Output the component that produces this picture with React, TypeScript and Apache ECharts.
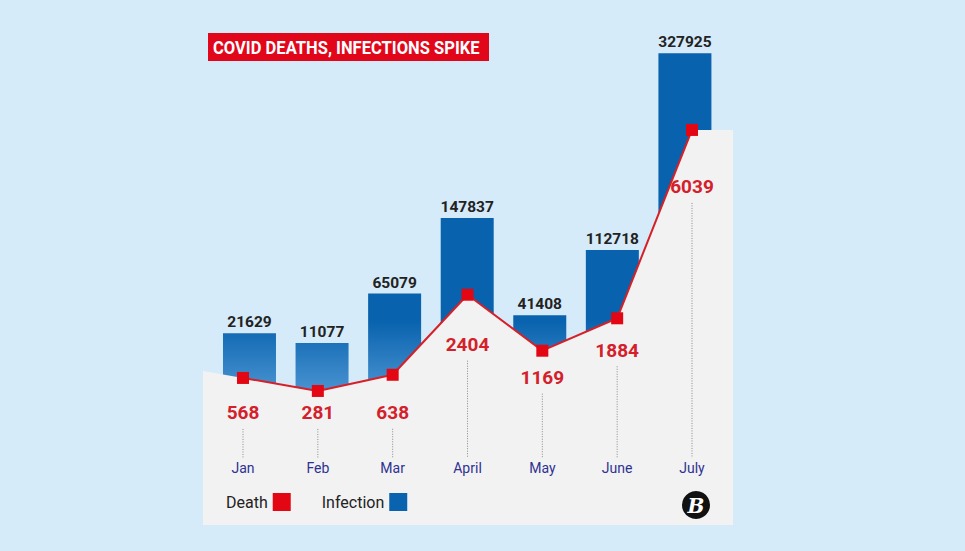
import React, { useEffect, useRef } from "react";
import * as echarts from "echarts";

const months = ["Jan", "Feb", "Mar", "April", "May", "June", "July"];
const infections = [21629, 11077, 65079, 147837, 41408, 112718, 327925];
const deaths = [568, 281, 638, 2404, 1169, 1884, 6039];
// vertical drop (px) of each red death label below its marker
const deathLabelDrop = [35, 22, 38, 50, 27, 32, 57];

const W = 965;
const H = 551;
const PANEL_LEFT = 203;
const PANEL_RIGHT = 733;
const PANEL_BOTTOM = 525;
const GRID_TOP = 40;

export default function App() {
  const ref = useRef<HTMLDivElement>(null);

  useEffect(() => {
    if (!ref.current) return;
    const chart = echarts.init(ref.current, null, { renderer: "svg" });

    const barGradient = new echarts.graphic.LinearGradient(
      0, 320, 0, 410,
      [
        { offset: 0, color: "#0862ad" },
        { offset: 1, color: "#5aa0db" },
      ],
      true
    );

    const option: any = {
      animation: false,
      backgroundColor: "#d5ebf9",
      textStyle: { fontFamily: "Roboto" },
      grid: [
        {
          left: 205.6,
          right: W - 729.4,
          top: GRID_TOP,
          bottom: H - PANEL_BOTTOM,
          containLabel: false,
        },
        {
          left: 213.2,
          right: W - 721.2,
          top: GRID_TOP,
          bottom: H - PANEL_BOTTOM,
          containLabel: false,
        },
      ],
      xAxis: [
        {
          type: "category",
          gridIndex: 0,
          data: months,
          boundaryGap: true,
          z: 20,
          axisLine: { show: false },
          axisTick: { show: false },
          splitLine: { show: false },
          axisLabel: {
            margin: -64,
            color: "#2e3192",
            fontSize: 14,
            fontFamily: "Roboto",
          },
        },
        {
          type: "category",
          gridIndex: 1,
          data: months,
          boundaryGap: true,
          show: false,
        },
      ],
      yAxis: [
        { type: "value", gridIndex: 1, min: -188184, max: 342451, show: false, splitLine: { show: false } },
        { type: "value", gridIndex: 0, min: -2676, max: 8023, show: false, splitLine: { show: false } },
      ],
      legend: {
        left: 221,
        top: 488,
        align: "right",
        itemWidth: 18,
        itemHeight: 18,
        itemGap: 31,
        z: 20,
        textStyle: { fontSize: 16, color: "#222", fontFamily: "Roboto" },
        data: [
          { name: "Death", icon: "rect", itemStyle: { color: "#e30613" } },
          { name: "Infection", icon: "rect", itemStyle: { color: "#0a63ae" } },
        ],
      },
      series: [
        {
          name: "Infection",
          type: "custom",
          z: 1,
          xAxisIndex: 1,
          yAxisIndex: 0,
          itemStyle: { color: "#0a63ae" },
          encode: { x: 0, y: 1 },
          data: infections.map((v, i) => [i, v]),
          renderItem: (params: any, api: any) => {
            const idx = api.value(0);
            const v = api.value(1);
            const top = api.coord([idx, v]);
            const bottom = params.coordSys.y + params.coordSys.height;
            const bw = 53;
            return {
              type: "group",
              children: [
                {
                  type: "rect",
                  shape: { x: top[0] - bw / 2, y: top[1], width: bw, height: bottom - top[1] },
                  style: { fill: barGradient },
                },
                {
                  type: "text",
                  style: {
                    text: String(v),
                    x: top[0],
                    y: top[1] - 3,
                    align: "center",
                    verticalAlign: "bottom",
                    fontSize: 15.5,
                    fontWeight: "bold",
                    fontFamily: "Roboto",
                    fill: "#222222",
                  },
                },
              ],
            };
          },
        },
        {
          name: "Death",
          type: "line",
          z: 10,
          xAxisIndex: 0,
          yAxisIndex: 1,
          data: deaths.map((v, i) => ({
            value: v,
            label: { offset: [0, deathLabelDrop[i]] },
          })),
          symbol: "rect",
          symbolSize: 12,
          itemStyle: { color: "#e30613" },
          lineStyle: { color: "#d71f27", width: 2 },
          label: {
            show: true,
            position: "inside",
            color: "#d4202a",
            fontSize: 19,
            fontWeight: "bold",
            fontFamily: "Roboto",
          },
        },
      ],
    };

    chart.setOption(option);

    const pts: number[][] = deaths.map((d, i) =>
      chart.convertToPixel({ xAxisIndex: 0, yAxisIndex: 1 } as any, [i, d]) as number[]
    );

    const polyPoints: number[][] = [
      [PANEL_LEFT, pts[0][1] - 7],
      ...pts.map((p) => [p[0], p[1]]),
      [PANEL_RIGHT, pts[pts.length - 1][1]],
      [PANEL_RIGHT, PANEL_BOTTOM],
      [PANEL_LEFT, PANEL_BOTTOM],
    ];

    const dotted = pts.map((p, i) => ({
      type: "line",
      z: 6,
      silent: true,
      shape: { x1: p[0], y1: p[1] + deathLabelDrop[i] + 16, x2: p[0], y2: 458 },
      style: { stroke: "#8a8a8a", lineWidth: 1, lineDash: [1, 1.5] },
    }));

    chart.setOption({
      graphic: [
        {
          type: "polygon",
          z: 5,
          silent: true,
          shape: { points: polyPoints },
          style: { fill: "#f2f2f2" },
        },
        ...dotted,
        {
          type: "rect",
          z: 20,
          shape: { x: 208, y: 33, width: 281, height: 28 },
          style: { fill: "#e2061b" },
        },
        {
          type: "text",
          z: 21,
          x: 213,
          y: 47.5,
          scaleX: 0.92,
          style: {
            text: "COVID DEATHS, INFECTIONS SPIKE",
            fill: "#ffffff",
            fontSize: 18,
            fontWeight: "bold",
            fontFamily: "Roboto",
            verticalAlign: "middle",
            align: "left",
          },
        },
        {
          type: "circle",
          z: 20,
          shape: { cx: 696, cy: 505, r: 14 },
          style: { fill: "#111111" },
        },
        {
          type: "text",
          z: 21,
          style: {
            text: "B",
            x: 696,
            y: 506,
            fill: "#ffffff",
            fontSize: 20,
            fontStyle: "italic",
            fontWeight: "bold",
            fontFamily: "DejaVu Serif",
            align: "center",
            verticalAlign: "middle",
          },
        },
      ],
    });

    return () => chart.dispose();
  }, []);

  return (
    <div
      ref={ref}
      style={{ position: "fixed", left: 0, top: 0, width: W, height: H }}
    />
  );
}
